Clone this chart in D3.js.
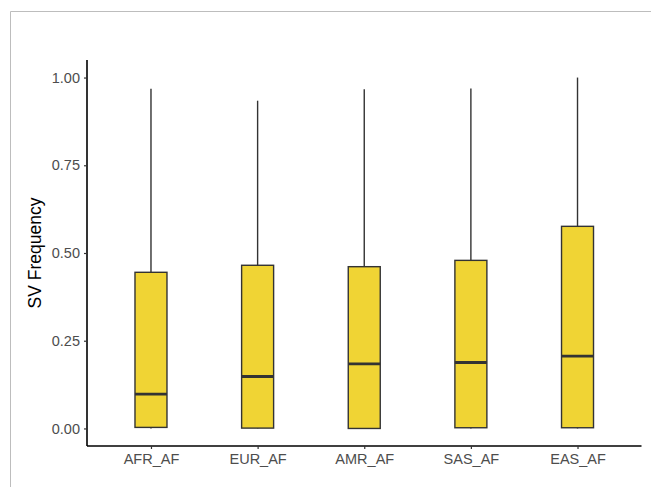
<!DOCTYPE html>
<html><head><meta charset="utf-8">
<script src="https://cdn.jsdelivr.net/npm/d3@7"></script>
<style>html,body{margin:0;padding:0;background:#fff;}svg{display:block;}</style>
</head><body>
<script>
const categories = ["AFR_AF","EUR_AF","AMR_AF","SAS_AF","EAS_AF"];
const whiskerLow = [0.0, 0.0, 0.0, 0.0, 0.0];
const q1 = [0.003, 0.001, 0.0, 0.002, 0.002];
const median = [0.098, 0.148, 0.184, 0.188, 0.206];
const q3 = [0.445, 0.465, 0.461, 0.479, 0.576];
const whiskerHigh = [0.968, 0.934, 0.967, 0.969, 1.0];
const yTicks = [0, 0.25, 0.5, 0.75, 1.0];
const yLabel = "SV Frequency";

(function(){
const W = 651, H = 487;
const svg = d3.select("body").append("svg").attr("width", W).attr("height", H);
const font = "'Liberation Sans', Arial, Helvetica, sans-serif";

// outer frame
svg.append("path").attr("d", `M10.5,${H} V11.5 H${W}`).attr("fill","none").attr("stroke","#bdbdbd").attr("stroke-width",1);

const pl = 87, pr = 641.5, pt = 60, pb = 446;
const y = d3.scaleLinear().domain([-0.05, 1.05]).range([pb, pt]);
const xPos = d3.scaleLinear().domain([0.4, 5.6]).range([pl, pr]);
const x = c => xPos(categories.indexOf(c) + 1);
const boxW = xPos(1.3) - xPos(1);

const data = categories.map((c,i)=>({c, lo:whiskerLow[i], q1:q1[i], med:median[i], q3:q3[i], hi:whiskerHigh[i]}));

const g = svg.append("g");
data.forEach(d=>{
  const cx = x(d.c);
  g.append("line").attr("x1",cx).attr("x2",cx).attr("y1",y(d.q3)).attr("y2",y(d.hi)).attr("stroke","#333").attr("stroke-width",1.4);
  g.append("line").attr("x1",cx).attr("x2",cx).attr("y1",y(d.lo)).attr("y2",y(d.q1)).attr("stroke","#333").attr("stroke-width",1.4);
  g.append("rect").attr("x",cx-boxW/2).attr("y",y(d.q3)).attr("width",boxW).attr("height",y(d.q1)-y(d.q3))
    .attr("fill","#F0D434").attr("stroke","#333").attr("stroke-width",1.4);
  g.append("line").attr("x1",cx-boxW/2).attr("x2",cx+boxW/2).attr("y1",y(d.med)).attr("y2",y(d.med)).attr("stroke","#333").attr("stroke-width",2.8);
});

// y axis
const yAxis = svg.append("g").attr("transform",`translate(${pl},0)`)
  .call(d3.axisLeft(y).tickValues(yTicks).tickFormat(d3.format(".2f")).tickSize(3).tickPadding(4));
yAxis.select(".domain").attr("d",`M0,${pt}V${pb}`).attr("stroke","#000").attr("stroke-width",1.6);
yAxis.selectAll(".tick line").attr("stroke","#333").attr("stroke-width",1.2);
yAxis.selectAll(".tick text").attr("fill","#4d4d4d").style("font-family",font).style("font-size","14.5px");

// x axis
const xb = d3.scalePoint().domain(categories).range([xPos(1), xPos(5)]);
const xAxis = svg.append("g").attr("transform",`translate(0,${pb})`)
  .call(d3.axisBottom(xb).tickSize(3).tickPadding(5));
xAxis.select(".domain").attr("d",`M${pl},0H${pr}`).attr("stroke","#000").attr("stroke-width",1.6);
xAxis.selectAll(".tick line").attr("stroke","#333").attr("stroke-width",1.2);
xAxis.selectAll(".tick text").attr("fill","#4d4d4d").style("font-family",font).style("font-size","14.5px");

svg.append("text").attr("transform",`translate(41,${(pt+pb)/2}) rotate(-90)`)
  .attr("text-anchor","middle").style("font-family",font).style("font-size","17.5px").attr("fill","#000").text(yLabel);
})();
</script>
</body></html>
